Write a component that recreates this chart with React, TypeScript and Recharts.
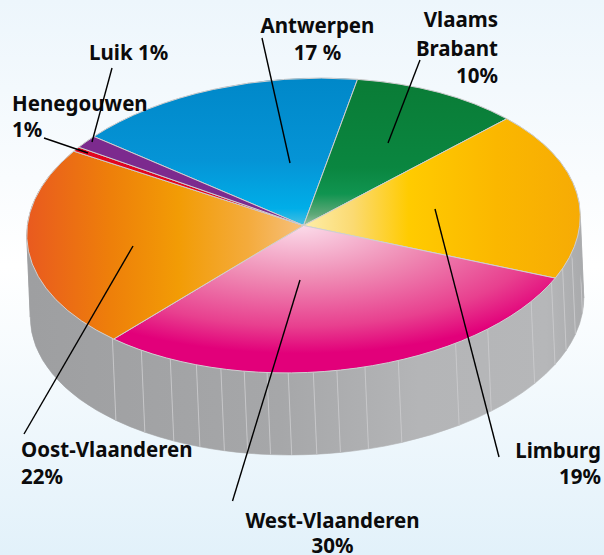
import React from "react";
import { PieChart, Pie } from "recharts";

// Shares (the printed labels are rounded).
const provinces = ["Antwerpen", "Vlaams Brabant", "Limburg", "West-Vlaanderen", "Oost-Vlaanderen", "Henegouwen", "Luik"];
const shares = [16.8, 10, 18.7, 30.2, 22.4, 0.5, 1.4];
const labelLines = [
  ["Antwerpen", "17 %"],
  ["Vlaams", "Brabant", "10%"],
  ["Limburg", "19%"],
  ["West-Vlaanderen", "30%"],
  ["Oost-Vlaanderen", "22%"],
  ["Henegouwen", "1%"],
  ["Luik 1%"],
];
// Side-wall facets, in degrees of sweep, left to right; the last one is the hidden back.
const wallFacets = [46.3, 7.8, 7.1, 6.0, 5.4, 5.0, 4.8, 4.4, 5.2, 4.9, 5.9, 7.2, 13.3, 8.4, 13.6, 8.3, 5.8, 6.4, 8.4, 5.8, 180];

const faceData = provinces.map((name, i) => ({ name, value: shares[i] }));
const wallData = wallFacets.map((value, i) => ({ name: `facet${i}`, value }));

const W = 604, H = 555;
const CX = 303.5, CY = 225.5, RX = 277, RY = 147, TILT = 2.7;
const EX = 3.5, EY = 82;
const fills = ["url(#gAnt)", "url(#gVla)", "url(#gLim)", "url(#gWes)", "url(#gOos)", "#e2051f", "#7c2a8e"];

const phi = (TILT * Math.PI) / 180;
const pt = (deg: number, dx = 0, dy = 0): [number, number] => {
  const t = (deg * Math.PI) / 180;
  const u = RX * Math.cos(t), v = -RY * Math.sin(t);
  return [CX + dx + u * Math.cos(phi) + v * Math.sin(phi), CY + dy - u * Math.sin(phi) + v * Math.cos(phi)];
};
const f = (n: number) => n.toFixed(2);

function FaceShape(props: any) {
  const { startAngle: s, endAngle: e, index } = props;
  const a = pt(s), b = pt(e);
  const large = Math.abs(e - s) > 180 ? 1 : 0;
  const d = `M${CX} ${CY}L${f(a[0])} ${f(a[1])}A${RX} ${RY} ${-TILT} ${large} 1 ${f(b[0])} ${f(b[1])}Z`;
  return <path d={d} fill={fills[index ?? provinces.indexOf(props.name)]} stroke="#cfcfd0" strokeWidth={1} strokeLinejoin="round" />;
}

function WallShape(props: any) {
  const { startAngle: s, endAngle: e } = props;
  const a = pt(s), b = pt(e), c = pt(e, EX, EY), g = pt(s, EX, EY);
  const d = `M${f(a[0])} ${f(a[1])}A${RX} ${RY} ${-TILT} 0 0 ${f(b[0])} ${f(b[1])}L${f(c[0])} ${f(c[1])}A${RX} ${RY} ${-TILT} 0 1 ${f(g[0])} ${f(g[1])}Z`;
  const seam = s > -175 && s < -3;
  return (
    <g>
      <path d={d} fill="url(#gWall)" stroke="url(#gWall)" strokeWidth={0.6} />
      {seam && <line x1={a[0]} y1={a[1]} x2={g[0]} y2={g[1]} stroke="#c9cacc" strokeWidth={0.9} />}
    </g>
  );
}

type Layout = { x: number; anchor: "start" | "middle" | "end"; ys: number[]; line: number[] };
const layouts: Layout[] = [
  { x: 317.5, anchor: "middle", ys: [33, 60], line: [262, 38, 290, 163] },
  { x: 498, anchor: "end", ys: [27, 56, 83], line: [420, 60, 388, 143] },
  { x: 601, anchor: "end", ys: [458, 484], line: [435, 209, 499, 457] },
  { x: 332.5, anchor: "middle", ys: [528, 553], line: [300, 280, 232.5, 501] },
  { x: 21, anchor: "start", ys: [457, 484], line: [133, 246, 24, 434] },
  { x: 12, anchor: "start", ys: [111, 137], line: [44, 138, 88, 153] },
  { x: 89, anchor: "start", ys: [60], line: [112, 68, 92, 142] },
];

function renderLabel(props: any) {
  const i = props.index;
  const l = layouts[i];
  return (
    <g key={i}>
      <line x1={l.line[0]} y1={l.line[1]} x2={l.line[2]} y2={l.line[3]} stroke="#000" strokeWidth={1.4} />
      {labelLines[i].map((t, j) => (
        <text key={j} x={l.x} y={l.ys[j]} textAnchor={l.anchor} fontFamily="'Noto Sans', sans-serif" fontWeight={700} fontSize={20.5} fill="#0b0b0c">
          {t}
        </text>
      ))}
    </g>
  );
}

const stop = (offset: string, color: string) => <stop offset={offset} stopColor={color} />;

export default function App() {
  return (
    <div style={{ position: "fixed", left: 0, top: 0, width: W, height: H, overflow: "hidden", background: "linear-gradient(180deg,#edf6fc 0%,#ffffff 48%,#e2f1fa 100%)" }}>
      <PieChart width={W} height={H} margin={{ top: 0, right: 0, bottom: 0, left: 0 }}>
        <defs>
          <linearGradient id="gWall" gradientUnits="userSpaceOnUse" x1={30} y1={0} x2={585} y2={0}>
            {stop("0%", "#9e9fa1")}{stop("45%", "#a6a7a9")}{stop("70%", "#b4b5b7")}{stop("93%", "#b6b7b9")}{stop("100%", "#a9aaac")}
          </linearGradient>
          <linearGradient id="gAnt" gradientUnits="userSpaceOnUse" x1={0} y1={80} x2={0} y2={226}>
            {stop("0%", "#0088c9")}{stop("55%", "#0594d6")}{stop("88%", "#00aee8")}{stop("100%", "#4cc0e0")}
          </linearGradient>
          <linearGradient id="gVla" gradientUnits="userSpaceOnUse" x1={0} y1={80} x2={0} y2={226}>
            {stop("0%", "#0a7c36")}{stop("60%", "#0a8640")}{stop("78%", "#109450")}{stop("92%", "#5fa878")}{stop("100%", "#9cc4a4")}
          </linearGradient>
          <linearGradient id="gLim" gradientUnits="userSpaceOnUse" x1={303} y1={0} x2={581} y2={0}>
            {stop("0%", "#fdeeaa")}{stop("18%", "#fbda72")}{stop("38%", "#ffcb00")}{stop("70%", "#fbb700")}{stop("100%", "#f6ab05")}
          </linearGradient>
          <radialGradient id="gWes" gradientUnits="userSpaceOnUse" cx={0} cy={0} r={1} gradientTransform="translate(300 225) scale(330 135)">
            {stop("0%", "#fbdcea")}{stop("40%", "#ef8bb4")}{stop("75%", "#e8408f")}{stop("95%", "#e2007a")}
          </radialGradient>
          <linearGradient id="gOos" gradientUnits="userSpaceOnUse" x1={27} y1={0} x2={303} y2={0}>
            {stop("0%", "#e95a1f")}{stop("30%", "#ee7f0a")}{stop("55%", "#f29c05")}{stop("80%", "#f4ab3c")}{stop("100%", "#f6c07c")}
          </linearGradient>
        </defs>
        <Pie
          data={wallData}
          dataKey="value"
          cx={CX}
          cy={CY}
          innerRadius={0}
          outerRadius={RX}
          startAngle={-181.4}
          endAngle={178.6}
          stroke="none"
          isAnimationActive={false}
          shape={WallShape}
          legendType="none"
        />
        <Pie
          data={faceData}
          dataKey="value"
          nameKey="name"
          cx={CX}
          cy={CY}
          innerRadius={0}
          outerRadius={RX}
          startAngle={137.8}
          endAngle={-222.2}
          isAnimationActive={false}
          shape={FaceShape}
          label={renderLabel}
          labelLine={false}
        />
      </PieChart>
    </div>
  );
}
